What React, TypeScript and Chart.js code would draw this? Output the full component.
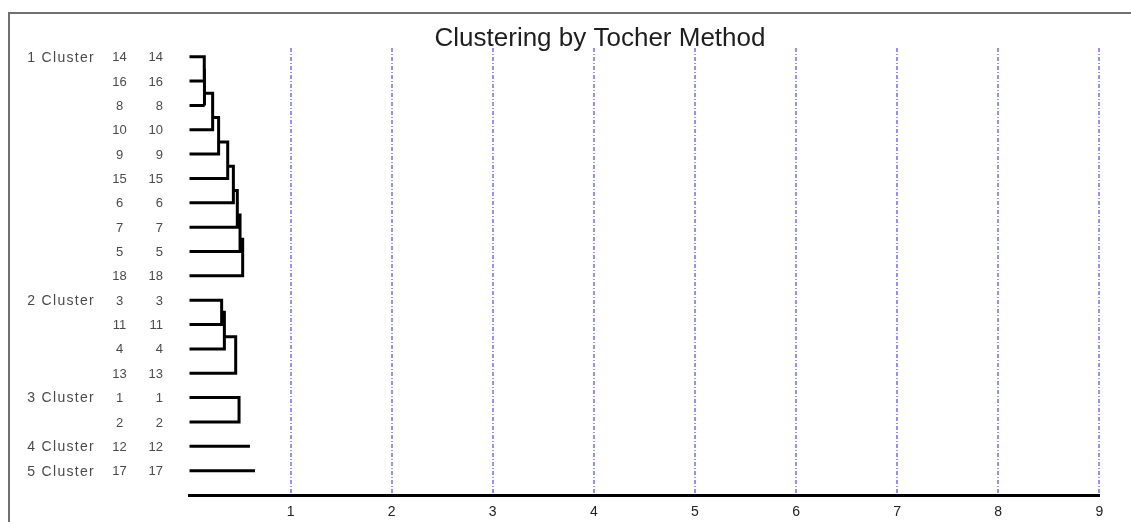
import { useEffect, useRef } from 'react';
import { Chart, registerables } from 'chart.js';

Chart.register(...registerables);

const titleText = 'Clustering by Tocher Method';
const clusterNames = ['1 Cluster', '2 Cluster', '3 Cluster', '4 Cluster', '5 Cluster'];

// leaf order and the height at which each further leaf joins its cluster
const cluster1Members = [14, 16, 8, 10, 9, 15, 6, 7, 5, 18];
const cluster1Heights = [0.146, 0.15, 0.229, 0.288, 0.378, 0.434, 0.473, 0.5, 0.526];
const cluster2Members = [3, 11, 4, 13];
const cluster2Heights = [0.318, 0.345, 0.457];
const cluster3Members = [1, 2];
const cluster3Heights = [0.49];
const cluster4Members = [12];
const cluster4Heights = [0.598];
const cluster5Members = [17];
const cluster5Heights = [0.648];

const xTickLabels = ['', '1', '2', '3', '4', '5', '6', '7', '8', '9'];

const FONT = "'Liberation Sans', Arial, sans-serif";

const clusters = [
  { members: cluster1Members, heights: cluster1Heights },
  { members: cluster2Members, heights: cluster2Heights },
  { members: cluster3Members, heights: cluster3Heights },
  { members: cluster4Members, heights: cluster4Heights },
  { members: cluster5Members, heights: cluster5Heights },
];

type Pt = { x: number; y: number | null };

function buildCluster(members: number[], heights: number[], r0: number): Pt[] {
  const pts: Pt[] = [];
  if (members.length === 1) {
    pts.push({ x: 0, y: r0 }, { x: heights[0], y: r0 });
    return pts;
  }
  for (let k = 1; k < members.length; k++) {
    const rk = r0 + k;
    const h = heights[k - 1];
    if (k === 1) {
      pts.push({ x: 0, y: rk }, { x: h, y: rk }, { x: h, y: r0 }, { x: 0, y: r0 });
    } else {
      const ny = r0 + k - 1.5;
      const ph = heights[k - 2];
      pts.push({ x: 0, y: rk }, { x: h, y: rk }, { x: h, y: ny }, { x: ph, y: ny });
    }
    pts.push({ x: h, y: null });
  }
  return pts;
}

const totalLeaves = clusters.reduce((s, c) => s + c.members.length, 0);

const labelPlugin = {
  id: 'leafLabels',
  afterDraw(chart: any) {
    const ctx = chart.ctx as CanvasRenderingContext2D;
    const y = chart.scales.y;
    ctx.save();
    ctx.fillStyle = '#4a4a4a';
    ctx.textBaseline = 'middle';
    let row = 0;
    clusters.forEach((c, ci) => {
      ctx.font = `14px ${FONT}`;
      (ctx as any).letterSpacing = '1.3px';
      ctx.textAlign = 'right';
      ctx.fillText(clusterNames[ci], 95, y.getPixelForValue(row) + 1);
      (ctx as any).letterSpacing = '0px';
      ctx.font = `13px ${FONT}`;
      c.members.forEach((m, k) => {
        const py = y.getPixelForValue(row + k) + 1;
        ctx.textAlign = 'center';
        ctx.fillText(String(m), 119.5, py);
        ctx.textAlign = 'right';
        ctx.fillText(String(m), 163, py);
      });
      row += c.members.length;
    });
    ctx.restore();
  },
};

export default function App() {
  const ref = useRef<HTMLCanvasElement | null>(null);

  useEffect(() => {
    if (!ref.current) return;
    let row = 0;
    const datasets = clusters.map((c, i) => {
      const data = buildCluster(c.members, c.heights, row);
      row += c.members.length;
      return {
        label: clusterNames[i],
        data,
        showLine: true,
        spanGaps: false,
        borderColor: '#000000',
        borderWidth: 3,
        pointRadius: 0,
        borderCapStyle: 'butt' as const,
        borderJoinStyle: 'miter' as const,
        clip: false as const,
      };
    });

    const chart = new Chart(ref.current, {
      type: 'scatter',
      data: { datasets },
      plugins: [labelPlugin],
      options: {
        animation: false,
        responsive: false,
        events: [],
        layout: { padding: { left: 100.7, right: 31.7, top: 0, bottom: 0 } },
        plugins: {
          legend: { display: false },
          tooltip: { enabled: false },
          title: {
            display: true,
            text: titleText,
            color: '#1e1e1e',
            font: { family: FONT, size: 26, weight: 'normal', lineHeight: 0.6 },
            padding: { top: 31.2, bottom: 1.2 },
          },
        },
        scales: {
          x: {
            type: 'linear',
            position: 'bottom',
            min: 0,
            max: 9,
            ticks: {
              stepSize: 1,
              padding: 8.6,
              color: '#222222',
              font: { family: FONT, size: 14 },
              maxRotation: 0,
              autoSkip: false,
              callback: (v: any) => xTickLabels[Number(v)] ?? '',
            },
            grid: {
              drawTicks: false,
              lineWidth: 2,
              color: (c: any) =>
                c.tick && c.tick.value === 0 ? 'rgba(0,0,0,0)' : 'rgba(110,110,255,0.75)',
            },
            border: { display: true, color: '#000000', width: 3, dash: [4, 2, 1, 2] },
            afterFit: (s: any) => {
              s.height = 27;
            },
          },
          y: {
            type: 'linear',
            min: -0.357,
            max: totalLeaves,
            reverse: true,
            ticks: { display: false },
            grid: { display: false },
            border: { display: false },
            afterFit: (s: any) => {
              s.width = 88.8;
            },
          },
        },
      },
    });
    return () => chart.destroy();
  }, []);

  return (
    <>
      <div
        style={{
          position: 'fixed',
          left: 8,
          top: 12,
          width: 1200,
          height: 600,
          borderLeft: '2px solid #707070',
          borderTop: '2px solid #707070',
          boxSizing: 'border-box',
        }}
      />
      <canvas
        ref={ref}
        width={1131}
        height={522}
        style={{ position: 'fixed', left: 0, top: 0, width: 1131, height: 522, display: 'block' }}
      />
    </>
  );
}
